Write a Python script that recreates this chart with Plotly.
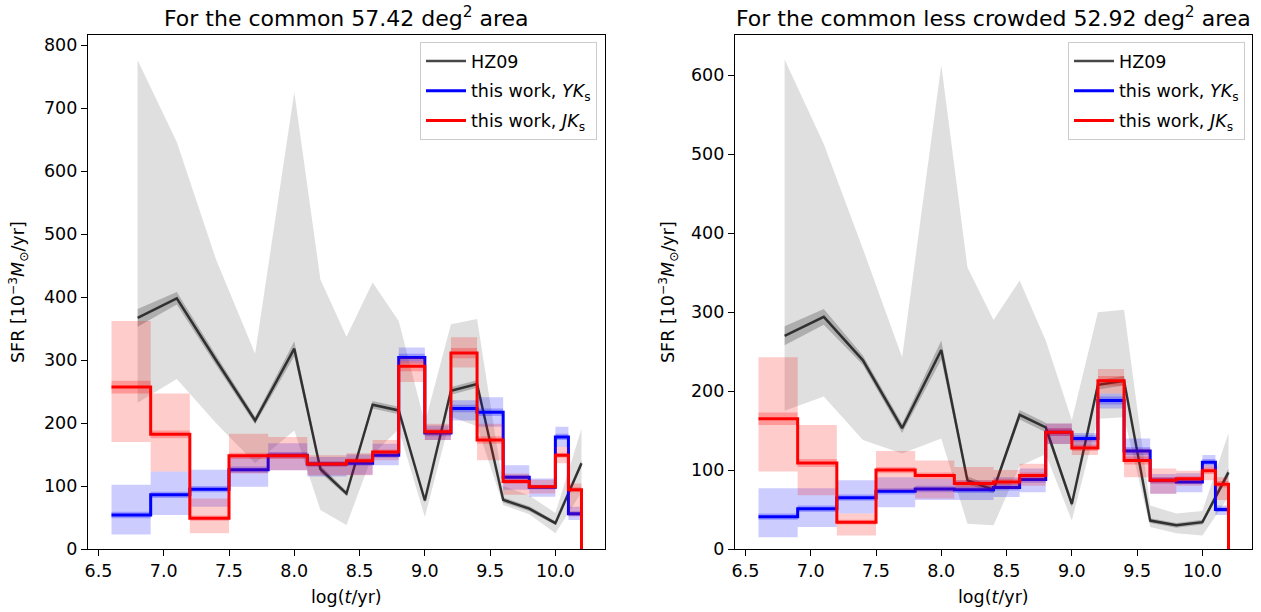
import plotly.graph_objects as go

# ---------------- data ----------------
# HZ09 (Harris & Zaritsky 2009) age grid
logt_hz = [6.8, 7.1, 7.4, 7.7, 8.0, 8.2, 8.4, 8.6, 8.8, 9.0, 9.2, 9.4, 9.6, 9.8, 10.0, 10.2]

# left panel: common 57.42 deg^2 area
hzL = [367, 398, 300, 204, 318, 127, 88, 229, 220, 77, 251, 262, 78, 64, 41, 136]
hzL_hi = [776, 646, 460, 310, 725, 428, 337, 423, 362, 200, 357, 365, 100, 85, 57, 191]
hzL_lo = [232, 270, 200, 136, 188, 62, 38, 150, 190, 51, 210, 195, 70, 55, 25, 90]
hzL_err = [14, 10, 8, 6, 12, 6, 4, 6, 6, 4, 6, 6, 4, 4, 3, 5]

# right panel: common less crowded 52.92 deg^2 area
hzR = [270, 294, 239, 153, 252, 87, 75, 170, 154, 57, 208, 213, 36, 30, 34, 97]
hzR_hi = [620, 513, 380, 243, 613, 357, 290, 340, 264, 163, 300, 303, 55, 45, 48, 147]
hzR_lo = [175, 193, 138, 121, 140, 32, 30, 105, 120, 36, 165, 167, 28, 20, 17, 66]
hzR_err = [12, 10, 6, 6, 12, 5, 4, 6, 6, 4, 6, 6, 3, 3, 3, 5]

# this work: bin edges
edges = [6.6, 6.9, 7.2, 7.5, 7.8, 8.1, 8.4, 8.6, 8.8, 9.0, 9.2, 9.4, 9.6, 9.8, 10.0, 10.1, 10.2]

# left panel, JKs (red)
jkL = [257, 182, 49, 148, 148, 135, 140, 154, 290, 186, 311, 173, 107, 99, 149, 94]
jkL_lo = [170, 123, 25, 120, 125, 117, 117, 141, 265, 173, 288, 141, 86, 88, 136, 52]
jkL_hi = [362, 247, 80, 183, 178, 149, 152, 173, 304, 199, 336, 199, 120, 110, 162, 104]
jkL_err = [10, 6, 4, 5, 5, 4, 4, 4, 8, 5, 8, 6, 4, 3, 4, 4]
# left panel, YKs (blue)
ykL = [54, 86, 95, 126, 149, 135, 136, 149, 304, 184, 223, 217, 114, 98, 178, 56]
ykL_lo = [23, 54, 67, 99, 125, 115, 118, 133, 294, 173, 204, 194, 94, 83, 162, 46]
ykL_hi = [102, 123, 126, 150, 168, 146, 150, 167, 320, 196, 236, 241, 133, 112, 194, 67]
ykL_err = [5, 5, 5, 5, 5, 4, 4, 4, 6, 5, 6, 6, 4, 3, 5, 4]

# right panel, JKs (red)
jkR = [165, 109, 34, 100, 93, 83, 85, 93, 148, 128, 213, 112, 87, 89, 99, 82]
jkR_lo = [98, 68, 17, 74, 64, 74, 76, 80, 133, 119, 197, 91, 70, 80, 87, 62]
jkR_hi = [243, 157, 45, 124, 112, 104, 100, 108, 159, 138, 228, 127, 102, 99, 106, 91]
jkR_err = [8, 5, 3, 4, 4, 4, 4, 4, 5, 4, 6, 5, 4, 3, 4, 4]
# right panel, YKs (blue)
ykR = [41, 51, 65, 73, 76, 75, 78, 88, 148, 140, 188, 124, 87, 85, 110, 50]
ykR_lo = [15, 28, 45, 53, 62, 62, 66, 72, 133, 129, 178, 112, 70, 72, 102, 43]
ykR_hi = [77, 77, 87, 91, 89, 87, 91, 102, 159, 147, 197, 140, 95, 96, 119, 55]
ykR_err = [4, 4, 4, 4, 4, 4, 4, 4, 5, 4, 5, 5, 4, 3, 4, 3]

titles = ["For the common 57.42 deg<sup>2</sup> area",
          "For the common less crowded 52.92 deg<sup>2</sup> area"]
xlabel = "log(<i>t</i>/yr)"
ylabel = "SFR [10<sup>−3</sup><i>M</i><sub>⊙</sub>/yr]"
legend_names = ["HZ09", "this work, <i>YK</i><sub>s</sub>", "this work, <i>JK</i><sub>s</sub>"]
x_ticks = [6.5, 7.0, 7.5, 8.0, 8.5, 9.0, 9.5, 10.0]
ymax = [816, 651]
ytick_step = [100, 100]

# ---------------- figure ----------------
W, H = 1261, 612
FONT = "DejaVu Sans"
fig = go.Figure()


def add_band(x, lo, hi, color, xa, ya, shape):
    fig.add_trace(go.Scatter(x=x, y=lo, mode="lines", line=dict(width=0, shape=shape),
                             hoverinfo="skip", showlegend=False, xaxis=xa, yaxis=ya))
    fig.add_trace(go.Scatter(x=x, y=hi, mode="lines", line=dict(width=0, shape=shape),
                             fill="tonexty", fillcolor=color, hoverinfo="skip",
                             showlegend=False, xaxis=xa, yaxis=ya))


def ext(v):
    return list(v) + [v[-1]]


def panel(idx, hz, hz_lo, hz_hi, hz_err, yk, yk_lo, yk_hi, yk_err, jk, jk_lo, jk_hi, jk_err):
    xa = "x" if idx == 0 else "x2"
    ya = "y" if idx == 0 else "y2"
    leg = "legend" if idx == 0 else "legend2"
    # HZ09 band
    add_band(logt_hz, hz_lo, hz_hi, "rgba(128,128,128,0.25)", xa, ya, "linear")
    add_band(logt_hz, [a - e for a, e in zip(hz, hz_err)], [a + e for a, e in zip(hz, hz_err)],
             "rgba(0,0,0,0.22)", xa, ya, "linear")
    fig.add_trace(go.Scatter(x=logt_hz, y=hz, mode="lines", name=legend_names[0],
                             line=dict(color="rgba(0,0,0,0.72)", width=2.5),
                             legendgroup=f"hz{idx}", legendrank=1,
                             legend=leg, xaxis=xa, yaxis=ya))
    # YKs (blue)
    add_band(edges, ext(yk_lo), ext(yk_hi), "rgba(0,0,255,0.2)", xa, ya, "hv")
    add_band(edges, ext([a - e for a, e in zip(yk, yk_err)]), ext([a + e for a, e in zip(yk, yk_err)]),
             "rgba(0,0,255,0.25)", xa, ya, "hv")
    fig.add_trace(go.Scatter(x=edges, y=list(yk) + [0], mode="lines", name=legend_names[1],
                             line=dict(color="#0000ff", width=3, shape="hv"),
                             legendgroup=f"yk{idx}", legendrank=2,
                             legend=leg, xaxis=xa, yaxis=ya))
    # JKs (red)
    add_band(edges, ext(jk_lo), ext(jk_hi), "rgba(255,0,0,0.2)", xa, ya, "hv")
    add_band(edges, ext([a - e for a, e in zip(jk, jk_err)]), ext([a + e for a, e in zip(jk, jk_err)]),
             "rgba(255,0,0,0.25)", xa, ya, "hv")
    fig.add_trace(go.Scatter(x=edges, y=list(jk) + [0], mode="lines", name=legend_names[2],
                             line=dict(color="#ff0000", width=3, shape="hv"),
                             legendgroup=f"jk{idx}", legendrank=3,
                             legend=leg, xaxis=xa, yaxis=ya))


panel(0, hzL, hzL_lo, hzL_hi, hzL_err, ykL, ykL_lo, ykL_hi, ykL_err, jkL, jkL_lo, jkL_hi, jkL_err)
panel(1, hzR, hzR_lo, hzR_hi, hzR_err, ykR, ykR_lo, ykR_hi, ykR_err, jkR, jkR_lo, jkR_hi, jkR_err)


def px(x):
    return x / W


def py(y):
    return (H - y) / H


# pixel layout (screen pixels of the target)
px_left = [(88, 605), (735, 1252)]
py_top, py_bot = 35, 549
ydom = [py(py_bot), py(py_top)]

axis_common = dict(showline=True, linecolor="black", linewidth=1.3, mirror=True,
                   ticks="outside", ticklen=6, tickwidth=1.3, tickcolor="black",
                   showgrid=False, zeroline=False, automargin=False,
                   tickfont=dict(family=FONT, size=17.5, color="black"))

layout = dict(width=W, height=H, margin=dict(l=0, r=0, t=0, b=0, autoexpand=False),
              plot_bgcolor="white", paper_bgcolor="white",
              font=dict(family=FONT, color="black"))

for i in range(2):
    sx = "" if i == 0 else "2"
    x0, x1 = px_left[i]
    layout["xaxis" + sx] = dict(axis_common, domain=[px(x0), px(x1)], range=[6.42, 10.38],
                                tickvals=x_ticks, ticktext=[f"{v:.1f}" for v in x_ticks],
                                anchor="y" + sx)
    yt = list(range(0, int(ymax[i]) + 1, ytick_step[i]))
    layout["yaxis" + sx] = dict(axis_common, domain=ydom, range=[0, ymax[i]],
                                tickvals=yt, anchor="x" + sx)

annotations = []
for i in range(2):
    x0, x1 = px_left[i]
    cx = px((x0 + x1) / 2)
    annotations.append(dict(text=titles[i], x=cx, y=py(17), xref="paper", yref="paper",
                            xanchor="center", yanchor="middle", showarrow=False,
                            font=dict(family=FONT, size=22, color="black")))
    annotations.append(dict(text=xlabel, x=cx, y=py(597), xref="paper", yref="paper",
                            xanchor="center", yanchor="middle", showarrow=False,
                            font=dict(family=FONT, size=17.5, color="black")))
    ylx = 18 if i == 0 else 668
    annotations.append(dict(text=ylabel, x=px(ylx), y=py((py_top + py_bot) / 2),
                            xref="paper", yref="paper", textangle=-90,
                            xanchor="center", yanchor="middle", showarrow=False,
                            font=dict(family=FONT, size=17.5, color="black")))
layout["annotations"] = annotations

leg_common = dict(bgcolor="rgba(255,255,255,0.85)", bordercolor="#cccccc", borderwidth=1,
                  font=dict(family=FONT, size=17.5, color="black"),
                  traceorder="grouped", tracegroupgap=4,
                  xanchor="right", yanchor="top", y=py(42), itemwidth=40)
layout["legend"] = dict(leg_common, x=px(597))
layout["legend2"] = dict(leg_common, x=px(1245))
layout["showlegend"] = True

fig.update_layout(**layout)
fig.write_html("out.html", config={"displayModeBar": False},
               post_script="document.body.style.margin='0px';")
